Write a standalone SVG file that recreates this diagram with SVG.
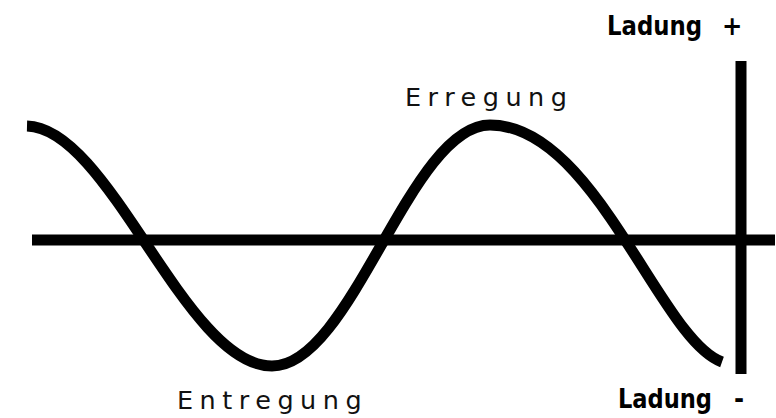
<svg xmlns="http://www.w3.org/2000/svg" width="776" height="418" viewBox="0 0 776 418">
<style>
.ln{stroke:#000;fill:none;stroke-width:11}
.lbl{font-family:"DejaVu Sans",Verdana,sans-serif;font-size:25.5px;letter-spacing:6.5px;fill:#111}
.chg{font-family:"DejaVu Sans Condensed","DejaVu Sans",sans-serif;font-weight:bold;font-size:27px;fill:#000}
</style>
<rect width="776" height="418" fill="#fff"/>
<g id="connectors">
<line id="axis" class="ln" x1="32" y1="240" x2="775" y2="240" stroke-width="9"/>
<line id="charge-axis" class="ln" x1="741" y1="61" x2="741" y2="374" stroke-width="12"/>
<path id="wave" class="ln" d="M27,126 C110,128 185,366 272,366 C352,366 410,125 490,125 C595,125 660,340 722,362"/>
</g>
<g id="erregung"><text class="lbl" x="405" y="106">Erregung</text></g>
<g id="entregung"><text class="lbl" x="177" y="409">Entregung</text></g>
<g id="ladung-plus"><text class="chg" x="607" y="35" textLength="95" lengthAdjust="spacingAndGlyphs">Ladung</text><text class="chg" x="722" y="35">+</text></g>
<g id="ladung-minus"><text class="chg" x="618" y="408" textLength="94" lengthAdjust="spacingAndGlyphs">Ladung</text><text class="chg" x="734" y="408">-</text></g>
</svg>
